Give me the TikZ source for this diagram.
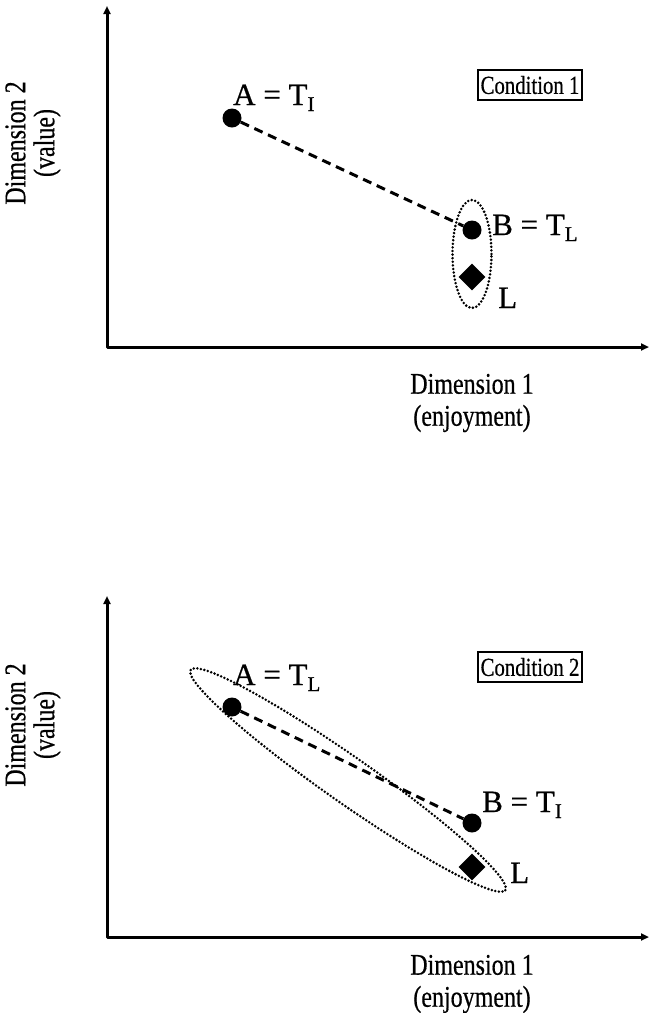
\documentclass[tikz,border=0pt]{standalone}
\usepackage{fontspec}
\setmainfont{Liberation Serif}[FakeBold=0.6]
\usetikzlibrary{shapes.geometric,arrows.meta}
\newcommand{\narrowtxt}[1]{\scalebox{0.8}[1]{#1}}
\newcommand{\subtxt}[1]{\raisebox{-6pt}{\fontsize{21}{21}\selectfont #1}}
\begin{document}
\begin{tikzpicture}[x=1pt,y=-1pt,
  axis/.style={line width=3pt,{Triangle[length=8pt,width=7pt]}-{Triangle[length=8pt,width=7pt]},line join=round},
  pt/.style={circle,fill=black,minimum size=19pt,inner sep=0pt},
  dia/.style={diamond,fill=black,minimum size=27pt,inner sep=0pt},
  lab/.style={font=\fontsize{31}{36}\selectfont,inner sep=0pt,anchor=base west},
  xdim/.style={font=\fontsize{30}{32}\selectfont,align=center,inner sep=0pt},
  ydim/.style={font=\fontsize{30}{29}\selectfont,align=center,inner sep=0pt,rotate=90},
  cond/.style={draw,line width=1.6pt,minimum width=104pt,minimum height=30pt,inner sep=0pt,font=\fontsize{26}{26}\selectfont},
  link/.style={line width=3pt,dash pattern=on 9pt off 6pt},
  ring/.style={draw,ellipse,inner sep=0pt,line width=2.8pt,dash pattern=on 0pt off 3.6pt,line cap=round}]
\useasboundingbox (0,0) rectangle (649,1013);
% ---------- panel 1 ----------
\coordinate (y1) at (107,6);
\coordinate (o1) at (107,347);
\coordinate (x1) at (649,347);
\draw[axis] (y1) -- (o1) -- (x1);
\node[cond] (c1) at (530,85) {\narrowtxt{Condition 1}};
\node[ring,minimum width=39pt,minimum height=108pt] (e1) at (472,254) {};
\node[pt] (a1) at (232,118) {};
\node[pt] (b1) at (472,230) {};
\node[dia] (l1) at (472,277) {};
\draw[link] (a1) -- (b1);
\node[lab] (la1) at (233,105) {A = T\subtxt{I}};
\node[lab] (lb1) at (492,235) {B = T\subtxt{L}};
\node[lab] (ll1) at (498,308) {L};
\node[xdim] (xl1) at (472,403) {\narrowtxt{Dimension 1}\\\narrowtxt{(enjoyment)}};
\node[ydim] (yl1) at (33,143) {\narrowtxt{Dimension 2}\\\narrowtxt{(value)}};
% ---------- panel 2 ----------
\coordinate (y2) at (107,596);
\coordinate (o2) at (107,937);
\coordinate (x2) at (649,937);
\draw[axis] (y2) -- (o2) -- (x2);
\node[cond] (c2) at (530,667) {\narrowtxt{Condition 2}};
\node[ring,minimum width=384pt,minimum height=46pt,rotate=-35] (e2) at (348,780) {};
\node[pt] (a2) at (232,707) {};
\node[pt] (b2) at (472,823) {};
\node[dia] (l2) at (472,867) {};
\draw[link] (a2) -- (b2);
\node[lab] (la2) at (233,685) {A = T\subtxt{L}};
\node[lab] (lb2) at (482,812) {B = T\subtxt{I}};
\node[lab] (ll2) at (510,883) {L};
\node[xdim] (xl2) at (472,984) {\narrowtxt{Dimension 1}\\\narrowtxt{(enjoyment)}};
\node[ydim] (yl2) at (33,725) {\narrowtxt{Dimension 2}\\\narrowtxt{(value)}};
\end{tikzpicture}
\end{document}
